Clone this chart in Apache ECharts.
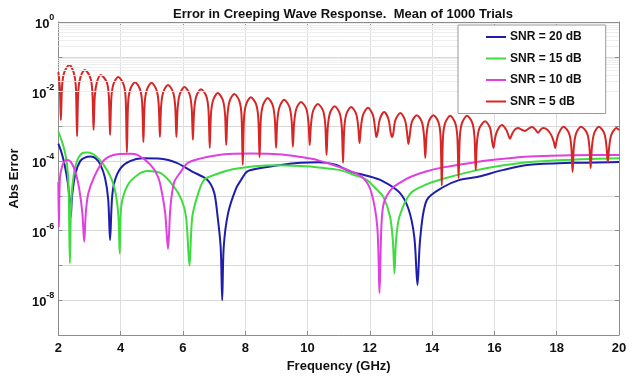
<!DOCTYPE html>
<html>
<head>
<meta charset="utf-8">
<script src="https://cdn.jsdelivr.net/npm/echarts@6/dist/echarts.min.js"></script>
<style>
  html, body { margin: 0; padding: 0; background: #fff; }
  #chart { width: 638px; height: 379px; }
</style>
</head>
<body>
<div id="chart"></div>
<script>
// Mean absolute error of the creeping-wave response vs. frequency, 1000 trials.
// Each series: [frequency (GHz), abs error]
const seriesNames = ['SNR = 20 dB', 'SNR = 15 dB', 'SNR = 10 dB', 'SNR = 5 dB'];

const snr20dB = [
  [2.00, 3.2e-4], [2.10, 1.78e-4], [2.20, 7.9e-5], [2.30, 2.5e-5], [2.36, 7.9e-6], [2.40, 2.5e-6],
  [2.44, 1.0e-5], [2.55, 4.5e-5], [2.70, 1.0e-4], [2.85, 1.26e-4], [3.03, 1.35e-4], [3.20, 1.2e-4],
  [3.35, 7.9e-5], [3.50, 3.2e-5], [3.60, 7.9e-6], [3.66, 5.4e-7], [3.72, 7.9e-6], [3.80, 2.5e-5],
  [4.00, 6.3e-5], [4.30, 1.0e-4], [4.70, 1.2e-4], [5.29, 1.17e-4], [5.80, 8.9e-5], [6.30, 5.0e-5],
  [6.78, 2.9e-5], [7.00, 1.26e-5], [7.10, 3.2e-6], [7.21, 3.5e-7], [7.26, 1.0e-8], [7.31, 3.5e-7],
  [7.45, 3.2e-6], [7.70, 1.6e-5], [7.87, 2.9e-5], [8.06, 5.0e-5], [8.50, 6.3e-5], [9.20, 7.9e-5],
  [9.77, 8.9e-5], [10.36, 9.3e-5], [10.90, 7.9e-5], [11.38, 5.0e-5], [11.90, 3.8e-5], [12.38, 2.75e-5],
  [12.95, 1.26e-5], [13.25, 4.0e-6], [13.43, 6.3e-7], [13.53, 2.75e-8], [13.62, 6.3e-7], [13.83, 7.6e-6],
  [14.36, 1.8e-5], [14.84, 2.8e-5], [15.44, 3.5e-5], [16.30, 5.6e-5], [17.14, 7.8e-5], [18.50, 8.9e-5],
  [20.00, 9.5e-5]
];

const snr15dB = [
  [2.00, 7.1e-4], [2.10, 4.0e-4], [2.20, 2.0e-4], [2.28, 7.9e-5], [2.33, 1.6e-5], [2.37, 1.15e-7],
  [2.41, 6.3e-6], [2.50, 4.5e-5], [2.62, 1.12e-4], [2.80, 1.74e-4], [2.95, 1.78e-4], [3.20, 1.41e-4],
  [3.45, 7.9e-5], [3.70, 3.2e-5], [3.84, 1.17e-5], [3.93, 2.5e-6], [3.97, 2.2e-7], [4.02, 5.0e-6],
  [4.22, 2.0e-5], [4.54, 4.0e-5], [4.86, 5.2e-5], [5.29, 4.5e-5], [5.71, 1.86e-5], [5.95, 7.9e-6],
  [6.10, 2.5e-6], [6.21, 1.0e-7], [6.30, 2.5e-6], [6.50, 1.26e-5], [6.68, 2.9e-5], [7.00, 4.0e-5],
  [7.60, 5.8e-5], [8.30, 7.1e-5], [9.00, 7.6e-5], [9.77, 7.2e-5], [10.36, 6.6e-5], [11.05, 5.5e-5],
  [11.50, 4.0e-5], [11.90, 2.9e-5], [12.20, 1.6e-5], [12.43, 9.5e-6], [12.65, 2.5e-6], [12.74, 5.0e-7],
  [12.79, 5.9e-8], [12.84, 5.0e-7], [12.95, 2.5e-6], [13.30, 1.17e-5], [13.80, 2.1e-5], [14.30, 3.0e-5],
  [15.44, 5.5e-5], [16.30, 7.6e-5], [17.14, 9.5e-5], [18.50, 1.1e-4], [20.00, 1.2e-4]
];

const snr10dB = [
  [2.00, 2.5e-5], [2.015, 1.26e-6], [2.05, 3.2e-5], [2.12, 7.1e-5], [2.20, 1.0e-4], [2.29, 1.07e-4],
  [2.42, 8.9e-5], [2.56, 4.5e-5], [2.68, 1.4e-5], [2.77, 3.2e-6], [2.83, 4.8e-7], [2.88, 3.2e-6],
  [2.96, 1.17e-5], [3.15, 3.5e-5], [3.47, 1.07e-4], [3.90, 1.58e-4], [4.30, 1.62e-4], [4.54, 1.5e-4],
  [4.96, 7.8e-5], [5.20, 3.5e-5], [5.30, 1.6e-5], [5.43, 3.2e-6], [5.52, 3.0e-7], [5.60, 5.0e-6],
  [5.72, 2.5e-5], [5.90, 4.5e-5], [6.14, 8.7e-5], [6.57, 1.2e-4], [7.10, 1.48e-4], [7.63, 1.62e-4],
  [8.20, 1.66e-4], [8.71, 1.62e-4], [9.30, 1.5e-4], [9.77, 1.32e-4], [10.35, 1.05e-4], [11.05, 6.6e-5],
  [11.42, 5.0e-5], [11.80, 3.2e-5], [12.05, 1.26e-5], [12.24, 1.26e-6], [12.31, 1.6e-8], [12.37, 1.26e-6],
  [12.45, 6.3e-6], [12.70, 1.6e-5], [13.00, 2.5e-5], [13.30, 3.5e-5], [13.80, 5.0e-5], [14.35, 6.6e-5],
  [15.44, 9.5e-5], [16.30, 1.17e-4], [17.14, 1.35e-4], [18.50, 1.48e-4], [20.00, 1.5e-4]
];

const snr5dB = [
  [2.00, 3.6e-2], [2.05, 1.2e-2], [2.08, 1.5e-3],
  [2.12, 1.45e-2], [2.19, 3.6e-2], [2.35, 5.8e-2], [2.49, 3.6e-2], [2.56, 1.45e-2], [2.60, 5.2e-4],
  [2.64, 1.05e-2], [2.71, 2.6e-2], [2.85, 4.2e-2], [3.02, 2.6e-2], [3.09, 1.05e-2], [3.13, 7.8e-4],
  [3.17, 7.5e-3], [3.24, 1.9e-2], [3.36, 3.0e-2], [3.55, 1.9e-2], [3.62, 7.5e-3], [3.66, 5.6e-4],
  [3.70, 6.5e-3], [3.77, 1.65e-2], [3.92, 2.6e-2], [4.09, 1.65e-2], [4.16, 6.5e-3], [4.20, 1.8e-4],
  [4.24, 4.7e-3], [4.31, 1.17e-2], [4.46, 1.86e-2], [4.62, 1.17e-2], [4.69, 4.7e-3], [4.73, 3.5e-4],
  [4.77, 4.5e-3], [4.84, 1.12e-2], [4.99, 1.78e-2], [5.15, 1.12e-2], [5.22, 4.5e-3], [5.26, 4.9e-4],
  [5.30, 3.9e-3], [5.37, 9.8e-3], [5.52, 1.55e-2], [5.68, 9.8e-3], [5.75, 3.9e-3], [5.79, 4.9e-4],
  [5.83, 3.4e-3], [5.90, 8.5e-3], [6.05, 1.35e-2], [6.21, 8.5e-3], [6.28, 3.4e-3], [6.32, 4.1e-4],
  [6.36, 2.9e-3], [6.43, 7.4e-3], [6.58, 1.17e-2], [6.75, 7.4e-3], [6.82, 2.9e-3], [6.86, 2.4e-4],
  [6.90, 2.3e-3], [6.97, 5.7e-3], [7.12, 9.1e-3], [7.28, 5.7e-3], [7.35, 2.3e-3], [7.39, 2.9e-4],
  [7.43, 2.1e-3], [7.50, 5.4e-3], [7.65, 8.5e-3], [7.81, 5.4e-3], [7.88, 2.1e-3], [7.92, 7.8e-5],
  [7.96, 1.7e-3], [8.03, 4.3e-3], [8.18, 6.9e-3], [8.35, 4.3e-3], [8.42, 1.7e-3], [8.46, 1.3e-4],
  [8.50, 1.6e-3], [8.57, 4.1e-3], [8.72, 6.5e-3], [8.88, 4.1e-3], [8.95, 1.6e-3], [8.99, 2.4e-4],
  [9.03, 1.45e-3], [9.10, 3.6e-3], [9.25, 5.8e-3], [9.42, 3.6e-3], [9.49, 1.45e-3], [9.53, 2.6e-4],
  [9.57, 1.25e-3], [9.64, 3.2e-3], [9.79, 5.0e-3], [9.96, 3.2e-3], [10.03, 1.25e-3], [10.07, 2.9e-4],
  [10.11, 1.1e-3], [10.18, 2.8e-3], [10.33, 4.4e-3], [10.50, 2.8e-3], [10.57, 1.1e-3], [10.61, 1.5e-4],
  [10.65, 9.5e-4], [10.72, 2.4e-3], [10.87, 3.8e-3], [11.03, 2.4e-3], [11.10, 9.5e-4], [11.14, 8.9e-5],
  [11.18, 9.0e-4], [11.25, 2.3e-3], [11.40, 3.6e-3], [11.56, 2.3e-3], [11.63, 9.0e-4], [11.67, 3.3e-4],
  [11.71, 8.5e-4], [11.78, 2.1e-3], [11.94, 3.4e-3], [12.10, 2.1e-3], [12.17, 8.5e-4], [12.21, 4.9e-4],
  [12.25, 6.5e-4], [12.32, 1.6e-3], [12.46, 2.6e-3], [12.60, 1.6e-3], [12.67, 6.5e-4], [12.71, 4.9e-4],
  [12.75, 6.0e-4], [12.82, 1.5e-3], [12.98, 2.4e-3], [13.13, 1.5e-3], [13.20, 6.0e-4], [13.24, 3.1e-4],
  [13.28, 5.3e-4], [13.35, 1.35e-3], [13.51, 2.1e-3], [13.67, 1.35e-3], [13.74, 5.3e-4], [13.78, 1.23e-4],
  [13.82, 5.3e-4], [13.89, 1.35e-3], [14.04, 2.1e-3], [14.20, 1.35e-3], [14.27, 5.3e-4], [14.31, 2.0e-5],
  [14.35, 5.0e-4], [14.42, 1.26e-3], [14.58, 2.0e-3], [14.74, 1.26e-3], [14.81, 5.0e-4], [14.85, 3.2e-5],
  [14.89, 5.0e-4], [14.96, 1.26e-3], [15.12, 2.0e-3], [15.29, 1.26e-3], [15.36, 5.0e-4], [15.40, 5.5e-5],
  [15.44, 3.5e-4], [15.52, 8.9e-4], [15.70, 1.4e-3], [15.86, 8.9e-4], [15.93, 3.5e-4], [15.97, 2.4e-4],
  [16.02, 4.5e-4], [16.09, 7.5e-4], [16.24, 1.1e-3], [16.38, 8.0e-4], [16.45, 5.5e-4], [16.50, 4.4e-4],
  [16.56, 5.8e-4], [16.64, 7.8e-4], [16.76, 8.9e-4], [16.88, 8.0e-4], [16.98, 7.4e-4], [17.10, 8.6e-4],
  [17.21, 9.5e-4], [17.32, 8.0e-4], [17.40, 6.5e-4], [17.48, 8.0e-4], [17.56, 8.9e-4], [17.70, 8.0e-4],
  [17.83, 5.5e-4], [17.91, 3.5e-4], [17.95, 2.4e-4],
  [17.99, 3.6e-4], [18.06, 6.2e-4], [18.22, 9.8e-4], [18.40, 6.2e-4], [18.47, 2.5e-4], [18.51, 4.9e-5],
  [18.55, 2.5e-4], [18.62, 6.2e-4], [18.78, 9.8e-4], [18.98, 6.2e-4], [19.05, 2.5e-4], [19.09, 6.3e-5],
  [19.13, 2.5e-4], [19.20, 6.2e-4], [19.35, 9.8e-4], [19.53, 6.2e-4], [19.60, 2.5e-4], [19.64, 9.3e-5],
  [19.68, 2.3e-4], [19.75, 5.6e-4], [19.92, 8.9e-4], [20.00, 7.8e-4]
];

const seriesData = [snr20dB, snr15dB, snr10dB, snr5dB];
const seriesColors = ['#1e1eaa', '#3fdc3f', '#e040e0', '#d62626'];

// log-decade minor gridlines (2..9 x 10^k)
const minorGrid = [];
for (let k = -9; k < 0; k++) {
  for (let m = 2; m <= 9; m++) minorGrid.push({ yAxis: m * Math.pow(10, k) });
}

const FONT = '"Liberation Sans", Arial, Helvetica, sans-serif';
const AXIS_GREY = '#8c8c8c';

const chart = echarts.init(document.getElementById('chart'), null, { renderer: 'canvas' });

const lineSeries = seriesData.map((d, i) => ({
  name: seriesNames[i],
  type: 'line',
  data: d,
  symbol: 'none',
  smooth: 0.3,
  clip: true,
  z: 2,
  lineStyle: { width: 2, color: seriesColors[i] },
  itemStyle: { color: seriesColors[i] },
  emphasis: { disabled: true },
  animation: false
}));

chart.setOption({
  backgroundColor: '#ffffff',
  animation: false,
  title: {
    text: 'Error in Creeping Wave Response.  Mean of 1000 Trials',
    left: 338,
    textAlign: 'center',
    top: 3,
    textStyle: { fontFamily: FONT, fontWeight: 'bold', fontSize: 13, color: '#111' }
  },
  legend: {
    data: seriesNames,
    z: 20,
    orient: 'vertical',
    left: 458,
    top: 25,
    padding: [5, 24, 5, 28],
    icon: 'rect',
    itemWidth: 20,
    itemHeight: 2,
    itemGap: 7.5,
    backgroundColor: '#ffffff',
    borderColor: '#9a9a9a',
    borderWidth: 1,
    borderRadius: 0,
    textStyle: { fontFamily: FONT, fontWeight: 'bold', fontSize: 12, color: '#111', lineHeight: 14, padding: [0, 0, 0, -1] }
  },
  grid: { left: 57.5, right: 19, top: 22, bottom: 44, containLabel: false },
  xAxis: [{
    type: 'value',
    min: 2, max: 20, interval: 2,
    name: 'Frequency (GHz)',
    nameLocation: 'middle',
    nameGap: 24,
    nameTextStyle: { fontFamily: FONT, fontWeight: 'bold', fontSize: 13, color: '#111' },
    axisLine: { lineStyle: { color: AXIS_GREY, width: 1 } },
    axisTick: { inside: true, length: 4, lineStyle: { color: AXIS_GREY } },
    axisLabel: { fontFamily: FONT, fontWeight: 'bold', fontSize: 13, color: '#111', margin: 7 },
    splitLine: { show: true, lineStyle: { color: '#dedede', width: 1 } }
  }, {
    type: 'value',
    position: 'top',
    min: 2, max: 20, interval: 2,
    axisLine: { lineStyle: { color: AXIS_GREY, width: 1 } },
    axisTick: { inside: true, length: 4, lineStyle: { color: AXIS_GREY } },
    axisLabel: { show: false },
    splitLine: { show: false }
  }],
  yAxis: [{
    type: 'log',
    logBase: 10,
    min: 1e-9, max: 1,
    splitNumber: 9,
    name: 'Abs Error',
    nameLocation: 'middle',
    nameGap: 33,
    nameTextStyle: { fontFamily: FONT, fontWeight: 'bold', fontSize: 13, color: '#111' },
    axisLine: { show: true, lineStyle: { color: AXIS_GREY, width: 1 } },
    axisTick: { show: true, inside: true, length: 4, lineStyle: { color: AXIS_GREY } },
    axisLabel: {
      margin: 4,
      formatter: function (v) {
        const e = Math.round(Math.log10(v));
        if (e % 2 !== 0) return '';
        return '{b|10}{s|' + e + '}';
      },
      rich: {
        b: { fontFamily: FONT, fontWeight: 'bold', fontSize: 13, color: '#111', lineHeight: 18, verticalAlign: 'bottom' },
        s: { fontFamily: FONT, fontWeight: 'bold', fontSize: 9, color: '#111', lineHeight: 10, verticalAlign: 'top' }
      }
    },
    splitLine: { show: true, lineStyle: { color: '#d8d8d8', width: 1 } }
  }, {
    type: 'log',
    logBase: 10,
    min: 1e-9, max: 1,
    splitNumber: 9,
    position: 'right',
    axisLine: { show: true, lineStyle: { color: AXIS_GREY, width: 1 } },
    axisTick: { show: true, inside: true, length: 4, lineStyle: { color: AXIS_GREY } },
    axisLabel: { show: false },
    splitLine: { show: false }
  }],
  series: [{
    name: 'minor-grid',
    type: 'line',
    data: [],
    z: 1,
    silent: true,
    markLine: {
      silent: true,
      symbol: 'none',
      label: { show: false },
      lineStyle: { color: '#eeeeee', width: 1, type: 'solid' },
      emphasis: { disabled: true },
      animation: false,
      data: minorGrid
    }
  }].concat(lineSeries)
});
</script>
</body>
</html>
